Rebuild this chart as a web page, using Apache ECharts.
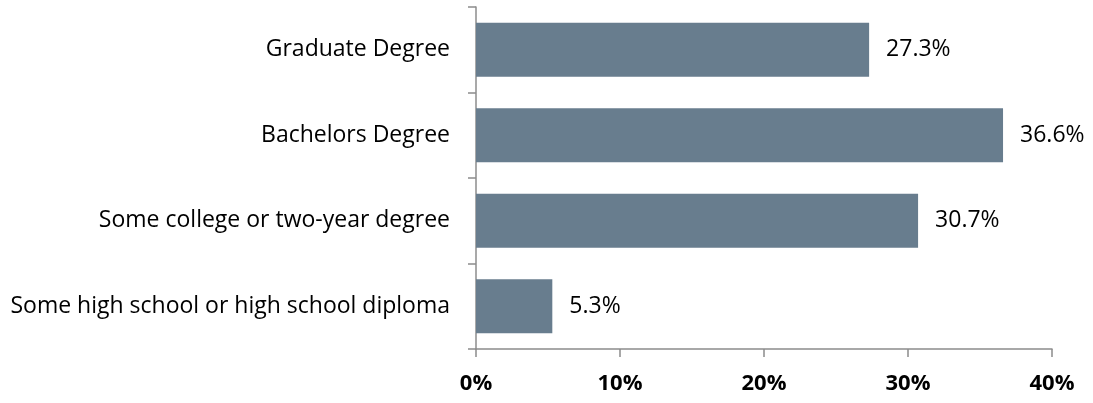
<!DOCTYPE html>
<html><head><meta charset="utf-8">
<script src="https://cdn.jsdelivr.net/npm/echarts@6/dist/echarts.min.js"></script>
<style>html,body{margin:0;padding:0;background:#fff}#c{width:1093px;height:403px}</style>
</head><body><div id="c"></div>
<script>
const categories = ["Some high school or high school diploma","Some college or two-year degree","Bachelors Degree","Graduate Degree"];
const values = [5.3, 30.7, 36.6, 27.3];
const xTicks = [0, 10, 20, 30, 40];

const chart = echarts.init(document.getElementById('c'), null, {renderer:'canvas'});
const font = '"Open Sans", "Liberation Sans", sans-serif';
chart.setOption({
  animation:false,
  grid:{left:476, right:41, top:7, bottom:54, containLabel:false},
  xAxis:{type:'value', min:xTicks[0], max:xTicks[xTicks.length-1], interval:10,
    axisLine:{show:true, lineStyle:{color:'#8c8c8c', width:1.5}},
    axisTick:{show:true, length:8, lineStyle:{color:'#8c8c8c', width:1.5}},
    splitLine:{show:false},
    axisLabel:{formatter:v=>v+'%', color:'#000', fontFamily:font, fontWeight:'bold', fontSize:22, margin:24}
  },
  yAxis:{type:'category', data:categories,
    axisLine:{show:true, lineStyle:{color:'#8c8c8c', width:1.5}},
    axisTick:{show:true, length:8, alignWithLabel:false, lineStyle:{color:'#8c8c8c', width:1.5}},
    axisLabel:{color:'#000', fontFamily:font, fontSize:23, margin:26}
  },
  series:[{type:'bar', data:values, barCategoryGap:'37%',
    itemStyle:{color:'#687d8e'},
    label:{show:true, position:'right', distance:17, formatter:p=>p.value.toFixed(1)+'%', color:'#000', fontFamily:font, fontSize:23}
  }]
});
</script></body></html>
